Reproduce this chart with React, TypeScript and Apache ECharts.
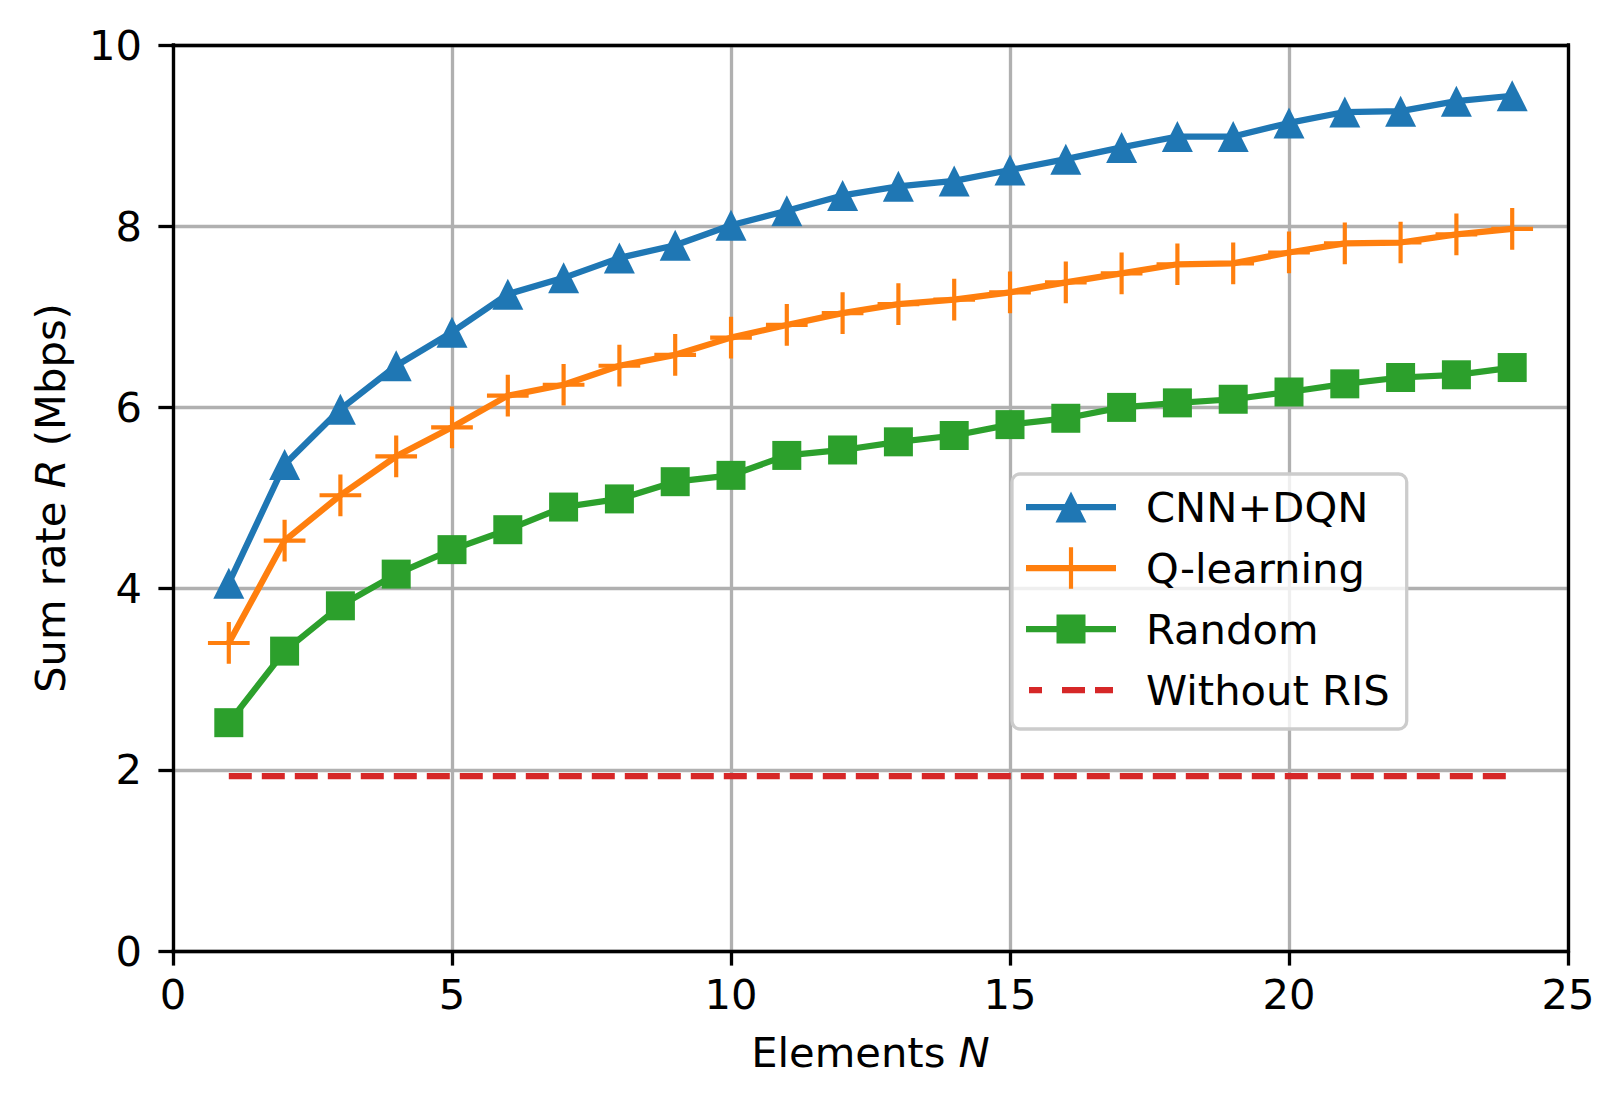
import React, { useEffect, useRef } from "react";
import * as echarts from "echarts";

const elementsN = [1, 2, 3, 4, 5, 6, 7, 8, 9, 10, 11, 12, 13, 14, 15, 16, 17, 18, 19, 20, 21, 22, 23, 24];
const cnnDqn = [4.06, 5.37, 5.98, 6.46, 6.83, 7.25, 7.43, 7.65, 7.79, 8.01, 8.17, 8.34, 8.44, 8.50, 8.62, 8.74, 8.87, 8.99, 8.99, 9.14, 9.26, 9.27, 9.38, 9.44];
const qLearning = [3.40, 4.53, 5.03, 5.46, 5.78, 6.13, 6.25, 6.46, 6.58, 6.77, 6.91, 7.04, 7.14, 7.19, 7.27, 7.38, 7.48, 7.58, 7.59, 7.71, 7.81, 7.82, 7.91, 7.97];
const randomRate = [2.52, 3.31, 3.81, 4.16, 4.43, 4.65, 4.90, 4.99, 5.18, 5.25, 5.47, 5.53, 5.62, 5.69, 5.81, 5.88, 6.00, 6.05, 6.09, 6.17, 6.26, 6.33, 6.36, 6.44];
const withoutRis = [1.93, 1.93, 1.93, 1.93, 1.93, 1.93, 1.93, 1.93, 1.93, 1.93, 1.93, 1.93, 1.93, 1.93, 1.93, 1.93, 1.93, 1.93, 1.93, 1.93, 1.93, 1.93, 1.93, 1.93];
const seriesNames = ["CNN+DQN", "Q-learning", "Random", "Without RIS"];
const xTicks = { min: 0, max: 25, interval: 5 };
const yTicks = { min: 0, max: 10, interval: 2 };

const FONT = "DejaVu Sans";
const FS = 41.67;
const LW = 6.25;
const SPINE = 3.3;

const PLUS = "path://M45,0 H55 V45 H100 V55 H55 V100 H45 V55 H0 V45 H45 Z";

const BBOX = "M0,0 L90,0 Z M0,42 L90,42 Z ";
const LINE = "M0,17.875 H90 V24.125 H0 Z ";
const ICON_CNN = "path://" + BBOX + LINE + "M45,5.5 L60.5,36.5 L29.5,36.5 Z";
const ICON_Q = "path://" + BBOX + LINE + "M42.915,0.15 H47.085 V41.85 H42.915 Z";
const ICON_RAND = "path://" + BBOX + LINE + "M30.5,6.5 H59.5 V35.5 H30.5 Z";
const ICON_NORIS =
  "path://" + BBOX +
  "M3,17.875 H16 V24.125 H3 Z M36,17.875 H59 V24.125 H36 Z M69,17.875 H87 V24.125 H69 Z";

function pairs(ys: number[]) {
  return elementsN.map((x, i) => [x, ys[i]]);
}

export default function App() {
  const ref = useRef<HTMLDivElement>(null);
  useEffect(() => {
    if (!ref.current) return;
    const chart = echarts.init(ref.current, undefined, { renderer: "svg" });
    const txt = { fontSize: FS, fontFamily: FONT, color: "#000" };
    const spineX = (pos: string) => ({
      type: "value", ...xTicks, position: pos, z: 5,
      axisLine: { show: true, onZero: false, lineStyle: { color: "#000", width: SPINE, cap: "square" } },
      axisTick: { show: false }, axisLabel: { show: false }, splitLine: { show: false },
    });
    const spineY = (pos: string) => ({
      type: "value", ...yTicks, position: pos, z: 5,
      axisLine: { show: true, onZero: false, lineStyle: { color: "#000", width: SPINE, cap: "square" } },
      axisTick: { show: false }, axisLabel: { show: false }, splitLine: { show: false },
    });
    const option: any = {
      animation: false,
      backgroundColor: "#fff",
      grid: { left: 173, right: 56, top: 45, bottom: 156, containLabel: false },
      xAxis: [
        {
          type: "value", ...xTicks, position: "bottom", z: 1,
          axisLine: { show: false, onZero: false },
          axisTick: { show: true, length: 14.6, lineStyle: { color: "#000", width: SPINE } },
          axisLabel: { margin: 22, ...txt },
          splitLine: { show: true, lineStyle: { color: "#b0b0b0", width: SPINE } },
          name: "Elements {i|N}",
          nameLocation: "middle",
          nameGap: 80,
          nameTextStyle: { ...txt, rich: { i: { ...txt, fontStyle: "italic" } } },
        },
        spineX("top"),
        spineX("bottom"),
      ],
      yAxis: [
        {
          type: "value", ...yTicks, position: "left", z: 1,
          axisLine: { show: false, onZero: false },
          axisTick: { show: true, length: 14.6, lineStyle: { color: "#000", width: SPINE } },
          axisLabel: { margin: 31, ...txt },
          splitLine: { show: true, lineStyle: { color: "#b0b0b0", width: SPINE } },
          name: "Sum rate {i|R} (Mbps)",
          nameLocation: "middle",
          nameGap: 102,
          nameTextStyle: { ...txt, rich: { i: { ...txt, fontStyle: "italic" } } },
        },
        spineY("left"),
        spineY("right"),
      ],
      legend: {
        orient: "vertical",
        left: 1012,
        top: 474,
        padding: [9, 17, 15, 14],
        itemWidth: 90,
        itemHeight: 42,
        itemGap: 13,
        selectedMode: false,
        backgroundColor: "rgba(255,255,255,0.8)",
        borderColor: "#cccccc",
        borderWidth: 3.3,
        borderRadius: 8,
        itemStyle: { borderWidth: 0 },
        textStyle: { ...txt, lineHeight: 48, padding: [0, 0, 0, 25] },
        data: [
          { name: seriesNames[0], icon: ICON_CNN },
          { name: seriesNames[1], icon: ICON_Q },
          { name: seriesNames[2], icon: ICON_RAND },
          { name: seriesNames[3], icon: ICON_NORIS },
        ],
      },
      series: [
        {
          name: seriesNames[0], type: "line", data: pairs(cnnDqn), color: "#1f77b4",
          symbol: "triangle", symbolSize: 31,
          lineStyle: { width: LW, join: "round" }, itemStyle: { borderWidth: 0 },
          emphasis: { disabled: true },
        },
        {
          name: seriesNames[1], type: "line", data: pairs(qLearning), color: "#ff7f0e",
          symbol: PLUS, symbolSize: 41.7,
          lineStyle: { width: LW, join: "round" }, itemStyle: { borderWidth: 0 },
          emphasis: { disabled: true },
        },
        {
          name: seriesNames[2], type: "line", data: pairs(randomRate), color: "#2ca02c",
          symbol: "rect", symbolSize: 29,
          lineStyle: { width: LW, join: "round" }, itemStyle: { borderWidth: 0 },
          emphasis: { disabled: true },
        },
        {
          name: seriesNames[3], type: "line", data: pairs(withoutRis), color: "#d62728",
          symbol: "none",
          lineStyle: { width: LW, type: [23, 10], cap: "butt" }, itemStyle: { borderWidth: 0 },
          emphasis: { disabled: true },
        },
      ],
    };
    chart.setOption(option);
    return () => chart.dispose();
  }, []);
  return (
    <div
      ref={ref}
      style={{ position: "absolute", left: 0, top: 0, width: 1624, height: 1107, background: "#fff" }}
    />
  );
}
